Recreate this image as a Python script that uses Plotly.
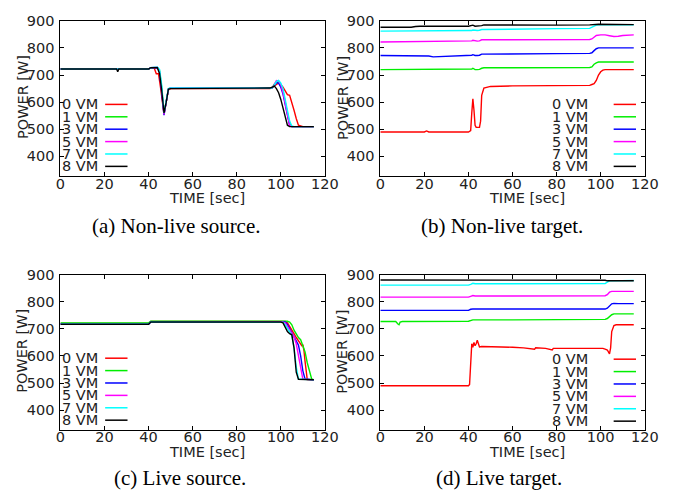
import plotly.graph_objects as go

W, H = 686, 491

labels = ["0 VM", "1 VM", "3 VM", "5 VM", "7 VM", "8 VM"]
colors = ["#ff0000", "#00ee00", "#0000ff", "#ff00ff", "#00ffff", "#000000"]
x_ticks = [0, 20, 40, 60, 80, 100, 120]
y_ticks = [400, 500, 600, 700, 800, 900]
captions = ["(a) Non-live source.", "(b) Non-live target.", "(c) Live source.", "(d) Live target."]

# ---- (a) Non-live source ----
a0_t = [0, 20, 40, 41, 42.5, 43.5, 44.5, 45.5, 46.5, 47, 48, 49, 50, 60, 70, 80, 90, 95, 96, 97, 98, 99, 100, 101, 102, 103, 104, 105, 106, 107, 108, 110, 115]
a0_p = [722, 722, 722, 727, 727, 705, 705, 650, 570, 555, 600, 645, 650, 650, 648, 650, 650, 650, 652, 660, 665, 670, 665, 655, 640, 628, 625, 600, 570, 540, 515, 510, 510]
a1_t = [0, 40, 41, 44, 45, 46, 47, 48, 49, 50, 95, 96, 97, 98, 99, 100, 101, 102, 103, 104, 105, 115]
a1_p = [722, 722, 727, 728, 715, 650, 558, 600, 648, 652, 650, 652, 665, 675, 672, 660, 640, 600, 560, 520, 510, 510]
a3_t = [0, 40, 41, 44, 45, 46, 47, 48, 49, 50, 95, 96, 97, 98, 99, 100, 101, 102, 103, 104, 105, 115]
a3_p = [722, 722, 727, 728, 710, 640, 552, 600, 648, 652, 650, 652, 660, 672, 670, 655, 630, 590, 550, 515, 510, 510]
a5_t = [0, 40, 41, 44, 45, 46, 47, 48, 49, 50, 95, 96, 97, 98, 99, 100, 101, 102, 103, 104, 105, 115]
a5_p = [722, 722, 727, 728, 712, 645, 555, 600, 648, 652, 650, 652, 665, 680, 678, 665, 635, 595, 550, 515, 510, 510]
a7_t = [0, 40, 41, 44, 45, 46, 47, 48, 49, 50, 95, 96, 97, 98, 99, 100, 101, 102, 103, 104, 105, 106, 115]
a7_p = [722, 722, 727, 729, 720, 660, 560, 605, 650, 652, 650, 652, 662, 676, 680, 670, 650, 615, 570, 530, 512, 510, 510]
a8_t = [0, 25.5, 26, 26.5, 40, 41, 44, 45, 46, 47, 48, 49, 50, 95, 96, 97, 98, 99, 100, 101, 102, 103, 104, 115]
a8_p = [722, 722, 712, 722, 722, 727, 727, 705, 640, 560, 600, 648, 650, 652, 655, 660, 650, 635, 610, 580, 545, 515, 510, 510]

# ---- (b) Non-live target ----
b0_t = [0, 20, 21, 22, 40, 41, 41.5, 42, 42.5, 43, 43.5, 45, 45.5, 46, 47, 50, 60, 70, 80, 90, 95, 96, 97, 98, 99, 100, 101, 102, 115]
b0_p = [490, 490, 494, 490, 490, 495, 560, 612, 570, 515, 507, 507, 530, 625, 652, 658, 660, 660, 660, 662, 662, 665, 668, 680, 700, 712, 718, 720, 720]
b1_t = [0, 40, 41.5, 42, 43, 44, 45, 46, 47, 60, 80, 95, 96, 97, 98, 99, 100, 115]
b1_p = [720, 720, 722, 725, 720, 720, 721, 725, 727, 727, 727, 728, 730, 740, 745, 748, 748, 748]
b3_t = [0, 20, 22, 24, 28, 40, 41.5, 42, 43, 44, 45, 46, 47, 60, 80, 95, 96, 97, 98, 99, 115]
b3_p = [772, 772, 770, 767, 768, 771, 773, 775, 772, 772, 773, 777, 777, 778, 779, 780, 782, 790, 797, 800, 800]
b5_t = [0, 40, 41.5, 42, 43, 44, 45, 46, 47, 60, 80, 95, 96, 97, 98, 100, 102, 104, 106, 108, 110, 115]
b5_p = [822, 824, 826, 828, 826, 825, 826, 830, 830, 830, 830, 831, 833, 840, 846, 848, 848, 845, 842, 843, 846, 848]
b7_t = [0, 40, 41.5, 42, 43, 44, 45, 46, 47, 60, 80, 95, 96, 97, 98, 99, 115]
b7_p = [862, 863, 864, 866, 864, 864, 865, 868, 868, 870, 871, 872, 875, 880, 884, 885, 885]
b8_t = [0, 14, 16, 18, 40, 41.5, 42, 43, 44, 45, 46, 47, 60, 80, 95, 97, 99, 115]
b8_p = [876, 876, 879, 880, 880, 881, 884, 880, 880, 880, 882, 885, 884, 884, 885, 886, 887, 886]

# ---- (c) Live source ----
c0_t = [0, 40, 41, 100, 102, 103, 104, 105, 106, 107, 108, 109, 109.5, 110, 110.5, 111, 111.5, 112, 115]
c0_p = [720, 720, 727, 727, 727, 722, 710, 695, 682, 668, 655, 640, 638, 642, 620, 580, 540, 513, 512]
c1_t = [0, 40, 41, 100, 103, 104, 105, 106, 107, 108, 109, 110, 111, 112, 113, 114, 115]
c1_p = [722, 722, 728, 728, 728, 725, 715, 695, 680, 668, 660, 640, 615, 575, 540, 515, 512]
c3_t = [0, 40, 41, 100, 102, 103, 104, 105, 106, 107, 108, 109, 110, 111, 115]
c3_p = [717, 717, 725, 725, 725, 715, 700, 688, 672, 660, 640, 600, 545, 515, 512]
c5_t = [0, 40, 41, 100, 102, 103, 104, 105, 106, 107, 108, 109, 110, 115]
c5_p = [718, 718, 726, 726, 722, 710, 695, 685, 670, 645, 600, 545, 515, 512]
c7_t = [0, 40, 41, 100, 101, 102, 103, 104, 105, 106, 107, 108, 115]
c7_p = [718, 718, 726, 726, 724, 715, 700, 690, 675, 630, 560, 515, 512]
c8_t = [0, 40, 41, 100, 101, 102, 103, 104, 105, 106, 107, 108, 115]
c8_p = [717, 717, 725, 725, 722, 705, 690, 682, 678, 630, 540, 514, 512]

# ---- (d) Live target ----
d0_t = [0, 40, 40.5, 41, 41.5, 42, 42.5, 43, 43.5, 44, 44.5, 45, 46, 50, 55, 60, 65, 70, 70.5, 75, 78, 78.5, 80, 85, 90, 95, 100, 101, 102, 103, 103.5, 104, 104.5, 105, 106, 107, 115]
d0_p = [490, 490, 495, 580, 645, 632, 650, 638, 645, 658, 640, 633, 635, 635, 633, 632, 630, 625, 630, 628, 622, 628, 628, 628, 627, 628, 628, 628, 625, 622, 615, 608, 630, 690, 712, 715, 715]
d1_t = [0, 7, 8, 8.5, 9, 10, 40, 41, 42, 60, 80, 100, 102, 103, 104, 105, 106, 115]
d1_p = [727, 727, 718, 715, 725, 727, 728, 732, 733, 733, 733, 734, 735, 738, 745, 752, 755, 755]
d3_t = [0, 40, 41, 42, 60, 80, 100, 102, 103, 104, 105, 106, 108, 115]
d3_p = [768, 768, 772, 773, 773, 773, 773, 773, 776, 785, 792, 794, 793, 793]
d5_t = [0, 40, 41, 42, 43, 60, 100, 102, 103, 104, 105, 115]
d5_p = [817, 817, 820, 823, 821, 822, 822, 822, 826, 835, 838, 838]
d7_t = [0, 40, 41, 42, 43, 60, 100, 102, 103, 104, 115]
d7_p = [861, 861, 864, 868, 866, 866, 866, 867, 872, 877, 878]
d8_t = [0, 40, 41, 60, 100, 102, 103, 104, 115]
d8_p = [880, 880, 881, 880, 880, 879, 877, 877, 877]

panels = [
    [(a0_t, a0_p), (a1_t, a1_p), (a3_t, a3_p), (a5_t, a5_p), (a7_t, a7_p), (a8_t, a8_p)],
    [(b0_t, b0_p), (b1_t, b1_p), (b3_t, b3_p), (b5_t, b5_p), (b7_t, b7_p), (b8_t, b8_p)],
    [(c0_t, c0_p), (c1_t, c1_p), (c3_t, c3_p), (c5_t, c5_p), (c7_t, c7_p), (c8_t, c8_p)],
    [(d0_t, d0_p), (d1_t, d1_p), (d3_t, d3_p), (d5_t, d5_p), (d7_t, d7_p), (d8_t, d8_p)],
]

# layout in pixels: (left, right, top, bottom)
boxes = [(57, 329, 13, 171), (386, 658, 13, 171), (57, 329, 271, 429), (386, 658, 271, 429)]
# legend: text right edge x, line x0, x1, first row y
legend_pos = [(98, 103, 126, 98), (602, 626, 649, 98), (98, 103, 126, 356), (602, 626, 649, 357)]
caption_pos = [(176, 222), (511, 222), (180, 478), (508, 478)]
row_step = 12.6

def px(x):
    return x / W

def py(y):
    return 1 - y / H

fig = go.Figure()
FONT = "DejaVu Sans"
annotations = []
shapes = []

for i, series in enumerate(panels):
    l, r, t, b = boxes[i]
    sfx = "" if i == 0 else str(i + 1)
    for k, (tt, pp) in enumerate(series):
        fig.add_trace(go.Scatter(x=tt, y=pp, mode="lines", name=labels[k],
                                 line=dict(color=colors[k], width=1.4),
                                 xaxis="x" + sfx, yaxis="y" + sfx, showlegend=False))
    common = dict(ticks="inside", ticklen=4, tickwidth=1, tickcolor="black",
                  mirror="allticks", showline=True, linecolor="black", linewidth=1,
                  showgrid=False, zeroline=False,
                  tickfont=dict(family=FONT, size=14.5, color="#222"))
    fig.layout["xaxis" + sfx] = dict(domain=[px(l), px(r)], range=[0, 120], tickvals=x_ticks,
                                     anchor="y" + sfx, ticklabelstandoff=-6, **common)
    fig.layout["yaxis" + sfx] = dict(domain=[py(b), py(t)], range=[327, 900], tickvals=y_ticks,
                                     anchor="x" + sfx, ticklabelstandoff=2, **common)
    # axis titles
    cx = (l + r) / 2 + 15
    annotations.append(dict(x=px(cx), y=py(b + 22), xref="paper", yref="paper", text="TIME [sec]",
                            showarrow=False, xanchor="center", yanchor="middle",
                            font=dict(family=FONT, size=14.5, color="#222")))
    annotations.append(dict(x=px(l - 39), y=py((t + b) / 2 - 1), xref="paper", yref="paper", text="POWER [W]",
                            showarrow=False, xanchor="center", yanchor="middle", textangle=-90,
                            font=dict(family=FONT, size=14.5, color="#222")))
    # legend
    tx, lx0, lx1, ly = legend_pos[i]
    for k in range(6):
        yy = ly + k * row_step
        annotations.append(dict(x=px(tx), y=py(yy), xref="paper", yref="paper", text=labels[k],
                                showarrow=False, xanchor="right", yanchor="middle",
                                font=dict(family=FONT, size=14.5, color="#222")))
        shapes.append(dict(type="line", xref="paper", yref="paper", x0=px(lx0), x1=px(lx1),
                           y0=py(yy), y1=py(yy), line=dict(color=colors[k], width=1.5)))
    # caption
    cxp, cyp = caption_pos[i]
    annotations.append(dict(x=px(cxp), y=py(cyp), xref="paper", yref="paper", text=captions[i],
                            showarrow=False, xanchor="center", yanchor="middle",
                            font=dict(family="Liberation Serif", size=21, color="black")))

fig.update_layout(width=W, height=H, margin=dict(l=0, r=0, t=0, b=0),
                  paper_bgcolor="white", plot_bgcolor="white",
                  annotations=annotations, shapes=shapes, showlegend=False)

fig.write_html("out.html")
